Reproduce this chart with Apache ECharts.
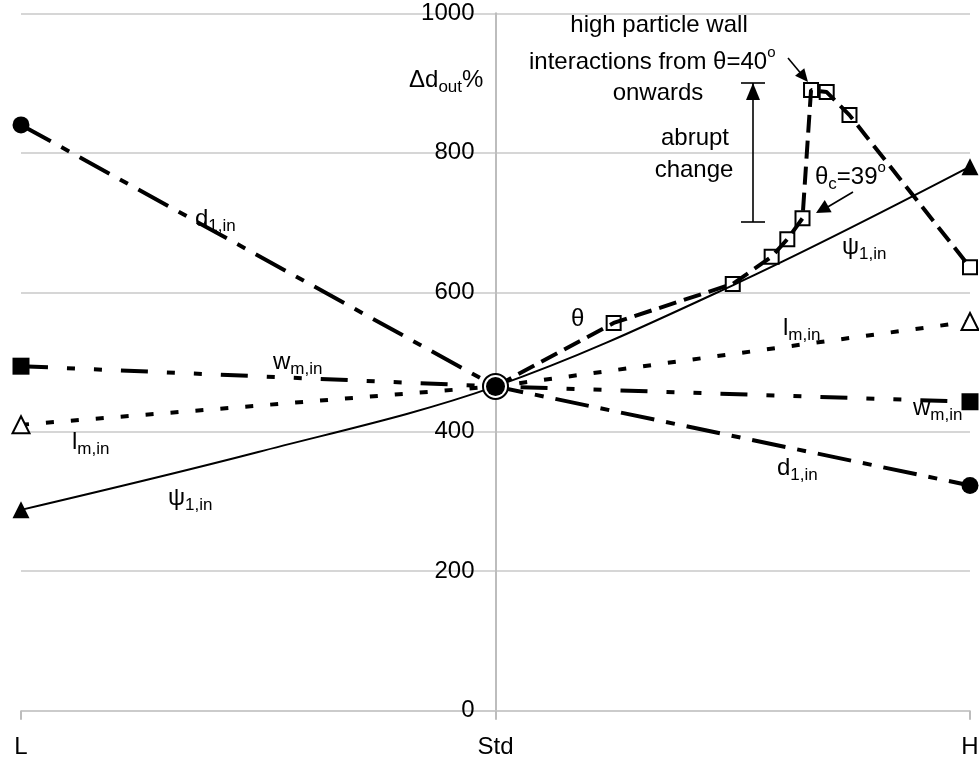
<!DOCTYPE html>
<html><head><meta charset="utf-8">
<script src="https://cdn.jsdelivr.net/npm/echarts@6/dist/echarts.min.js"></script>
<style>html,body{margin:0;padding:0;background:#fff}#c{width:979px;height:760px}</style>
</head><body><div id="c"></div>
<script>
// ---- data ----
const xLabels = ['L', 'Std', 'H'];
const xPos = [-1, 0, 1];
const yTicks = [0, 200, 400, 600, 800, 1000];
const d1In = [840, 465, 323];
const wmIn = [494, 465, 443];
const lmIn = [410, 465, 558];
const psiX = [-1, -0.5, 0, 0.5, 1];
const psiIn = [288, 371, 465, 610, 780];
const thetaX = [0, 0.249, 0.5, 0.582, 0.615, 0.647, 0.665, 0.698, 0.746, 1];
const thetaVal = [465, 556, 612, 651, 676, 706, 890, 887, 854, 636];
const stdValue = 465;

const F = '"Liberation Sans", Arial, sans-serif';
const chart = echarts.init(document.getElementById('c'), null, {renderer: 'canvas'});

function endSeries(name, vals, symbol, fill, border, dash, width) {
  return {
    type: 'line', name: name, animation: false, z: 3,
    data: xPos.map((x, i) => ({value: [x, vals[i]], symbol: i === 1 ? 'none' : symbol})),
    symbolSize: 17,
    itemStyle: {color: fill, borderColor: '#000', borderWidth: border, opacity: 1},
    lineStyle: {color: '#000', width: width, type: dash}
  };
}

const series = [
  endSeries('d1,in', d1In, 'circle', '#000', 0, [34, 12, 9, 12], 4),
  endSeries('wm,in', wmIn, 'rect', '#000', 0, [27, 19, 8, 19, 8, 19], 4),
  endSeries('lm,in', lmIn, 'triangle', '#fff', 2, [8, 17], 4),
  {
    type: 'line', name: 'psi1,in', animation: false, z: 3, smooth: 0.35,
    data: psiX.map((x, i) => ({value: [x, psiIn[i]], symbol: (i === 0 || i === psiX.length - 1) ? 'triangle' : 'none'})),
    symbolSize: 17,
    itemStyle: {color: '#000', opacity: 1},
    lineStyle: {color: '#000', width: 2}
  },
  {
    type: 'line', name: 'theta', animation: false, z: 4,
    data: thetaX.map((x, i) => ({value: [x, thetaVal[i]], symbol: i === 0 ? 'none' : 'rect'})),
    symbolSize: 14,
    itemStyle: {color: 'rgba(0,0,0,0)', borderColor: '#000', borderWidth: 2, opacity: 1},
    lineStyle: {color: '#000', width: 4, type: [18, 8]}
  },
  {
    type: 'scatter', name: 'stdOuter', animation: false, z: 6,
    data: [[0, stdValue]], symbol: 'circle', symbolSize: 25,
    itemStyle: {color: '#fff', borderColor: '#000', borderWidth: 2, opacity: 1}
  },
  {
    type: 'scatter', name: 'stdInner', animation: false, z: 7,
    data: [[0, stdValue]], symbol: 'circle', symbolSize: 19,
    itemStyle: {color: '#000', opacity: 1}
  }
];

// ---- annotations ----
const rich = {
  m: {fontSize: 24, fontFamily: F, fill: '#000'},
  s: {fontSize: 17, fontFamily: F, fill: '#000', padding: [14, 0, 0, 0]},
  u: {fontSize: 15, fontFamily: F, fill: '#000', padding: [0, 0, 18, 0]}
};
function txt(text, x, y, align) {
  return {type: 'text', x: x, y: y, z: 20, silent: true,
    style: {text: text, rich: rich, fill: '#000', font: '24px ' + F, align: align || 'left', verticalAlign: 'middle'}};
}
function line(x1, y1, x2, y2, w) {
  return {type: 'line', z: 20, silent: true, shape: {x1: x1, y1: y1, x2: x2, y2: y2}, style: {stroke: '#000', lineWidth: w || 1.6}};
}
function head(tx, ty, px, py, L, W) {
  const dx = px - tx, dy = py - ty, n = Math.sqrt(dx * dx + dy * dy);
  const ux = dx / n, uy = dy / n, bx = px - ux * L, by = py - uy * L;
  return {type: 'polygon', z: 20, silent: true,
    shape: {points: [[px, py], [bx - uy * W, by + ux * W], [bx + uy * W, by - ux * W]]},
    style: {fill: '#000'}};
}

const graphics = [
  txt('{m|high particle wall}', 659, 25, 'center'),
  txt('{m|interactions from θ=40}{u|o}', 529, 62),
  txt('{m|onwards}', 658, 93, 'center'),
  txt('{m|abrupt}', 695, 138, 'center'),
  txt('{m|change}', 694, 170, 'center'),
  txt('{m|θ}{s|c}{m|=39}{u|o}', 815, 177),
  txt('{m|ψ}{s|1,in}', 842, 247),
  txt('{m|l}{s|m,in}', 783, 328),
  txt('{m|w}{s|m,in}', 913, 408),
  txt('{m|d}{s|1,in}', 777, 468),
  txt('{m|θ}', 571, 319),
  txt('{m|d}{s|1,in}', 195, 219),
  txt('{m|w}{s|m,in}', 273, 362),
  txt('{m|l}{s|m,in}', 72, 442),
  txt('{m|ψ}{s|1,in}', 168, 498),
  txt('{m|Δd}{s|out}{m|%}', 409, 80),
  // abrupt change bar
  line(753, 83, 753, 222, 1.6),
  line(741, 83, 765, 83, 1.6),
  line(741, 222, 765, 222, 1.6),
  head(753, 140, 753, 83, 17, 7),
  // theta = 40 arrow
  line(788, 58, 803, 76, 1.6),
  head(788, 58, 808, 82, 13, 6),
  // theta c arrow
  line(853, 192, 826, 208, 1.6),
  head(853, 192, 816, 213, 14, 7)
];

chart.setOption({
  animation: false,
  backgroundColor: '#fff',
  grid: {left: 21, right: 9, top: 13.3, bottom: 49.3, containLabel: false, outerBoundsMode: 'none'},
  xAxis: {
    type: 'value', min: -1, max: 1, interval: 1,
    axisLine: {show: true, onZero: false, lineStyle: {color: '#c8c8c8', width: 1.5}},
    axisTick: {show: true, length: 9, lineStyle: {color: '#bdbdbd', width: 2}},
    splitLine: {show: false},
    axisLabel: {fontSize: 24, fontFamily: F, color: '#000', margin: 25,
      formatter: v => { const i = xPos.indexOf(v); return i >= 0 ? xLabels[i] : ''; }}
  },
  yAxis: {
    type: 'value', position: 'left', offset: -474.5,
    min: yTicks[0], max: yTicks[yTicks.length - 1], interval: yTicks[1] - yTicks[0],
    axisLine: {show: true, onZero: false, lineStyle: {color: '#bdbdbd', width: 2}},
    axisTick: {show: false},
    splitLine: {show: true, lineStyle: {color: '#c8c8c8', width: 1.5}},
    axisLabel: {show: true, fontSize: 24, fontFamily: F, color: '#000', margin: 21, hideOverlap: false,
      formatter: v => String(v)}
  },
  series: series,
  graphic: graphics
});
</script>
</body></html>
